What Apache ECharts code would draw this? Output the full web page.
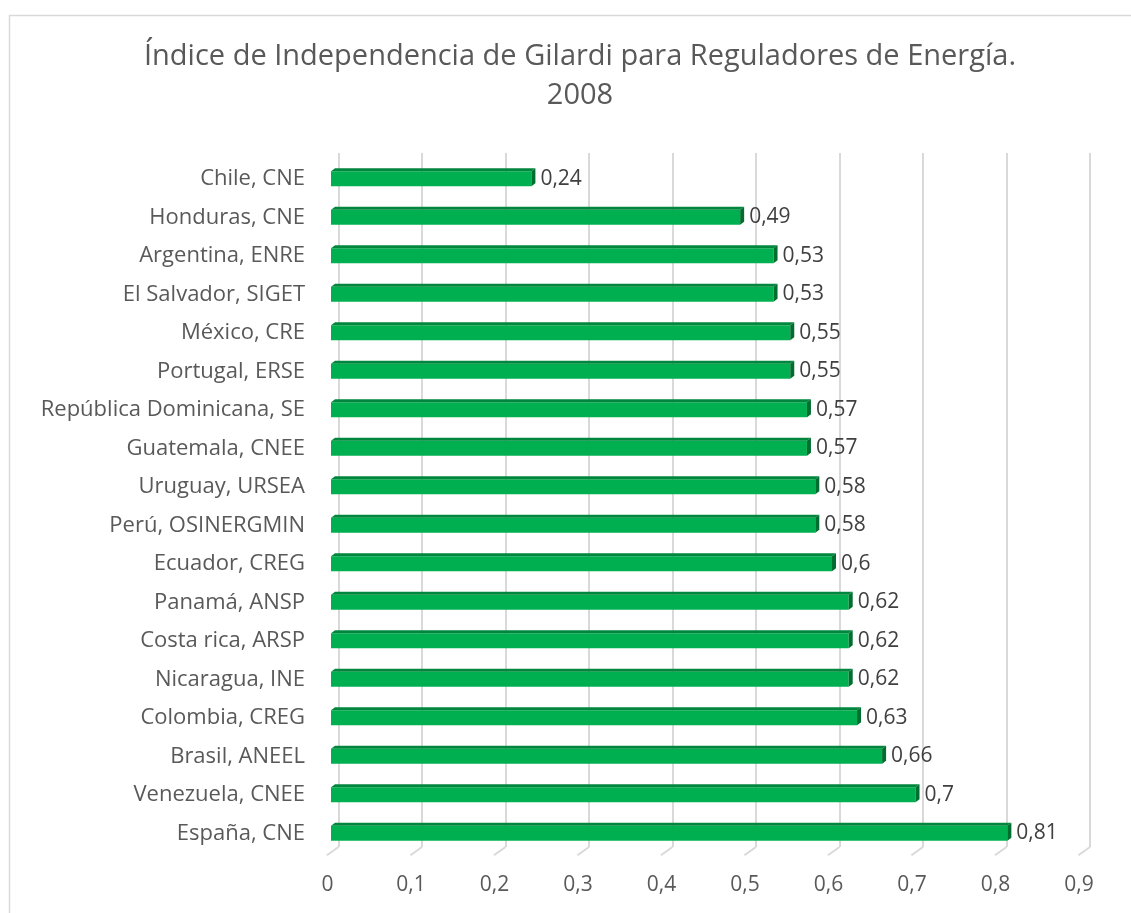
<!DOCTYPE html>
<html>
<head>
<meta charset="utf-8">
<script src="https://cdn.jsdelivr.net/npm/echarts@6/dist/echarts.min.js"></script>
<style>
  html, body { margin: 0; padding: 0; background: #fff; }
  #chart { width: 1131px; height: 913px; }
</style>
</head>
<body>
<div id="chart"></div>
<script>
// datos del grafico
const categorias = [
  'Chile, CNE', 'Honduras, CNE', 'Argentina, ENRE', 'El Salvador, SIGET',
  'México, CRE', 'Portugal, ERSE', 'República Dominicana, SE', 'Guatemala, CNEE',
  'Uruguay, URSEA', 'Perú, OSINERGMIN', 'Ecuador, CREG', 'Panamá, ANSP',
  'Costa rica, ARSP', 'Nicaragua, INE', 'Colombia, CREG', 'Brasil, ANEEL',
  'Venezuela, CNEE', 'España, CNE'
];
const indice = [0.24, 0.49, 0.53, 0.53, 0.55, 0.55, 0.57, 0.57, 0.58, 0.58,
  0.6, 0.62, 0.62, 0.62, 0.63, 0.66, 0.7, 0.81];
const ticks = [0, 0.1, 0.2, 0.3, 0.4, 0.5, 0.6, 0.7, 0.8, 0.9];

const fuente = '"Open Sans", sans-serif';
const coma = v => String(v).replace('.', ',');

const myChart = echarts.init(document.getElementById('chart'), null, {renderer: 'canvas'});

const option = {
  animation: false,
  title: {
    text: 'Índice de Independencia de Gilardi para Reguladores de Energía.\n2008',
    left: 575,
    top: 32,
    textAlign: 'center',
    textStyle: {
      fontFamily: fuente,
      fontSize: 29,
      fontWeight: 'normal',
      color: '#595959',
      lineHeight: 39
    }
  },
  graphic: [{
    type: 'rect',
    shape: {x: 9.5, y: 15.5, width: 1200, height: 1000},
    style: {fill: null, stroke: '#d9d9d9', lineWidth: 1.5},
    silent: true
  }],
  grid: [
    // plano frontal (barras)
    {left: 331, width: 751.5, top: 159.5, height: 693},
    // pared del fondo (lineas de division)
    {left: 338.5, width: 751.5, top: 153, height: 694}
  ],
  xAxis: [
    {
      gridIndex: 0, type: 'value', min: 0, max: 0.9, interval: 0.1,
      axisLine: {show: false}, axisTick: {show: false}, splitLine: {show: false},
      axisLabel: {
        margin: 22, padding: [0, 7, 0, 0],
        fontFamily: fuente, fontSize: 21, color: '#595959',
        formatter: v => coma(+v.toFixed(1))
      }
    },
    {
      gridIndex: 1, type: 'value', min: 0, max: 0.9, interval: 0.1,
      axisLine: {show: false}, axisTick: {show: false}, axisLabel: {show: false},
      splitLine: {show: true, lineStyle: {color: '#d9d9d9', width: 2}}
    }
  ],
  yAxis: [
    {
      gridIndex: 0, type: 'category', data: categorias, inverse: true,
      axisLine: {show: false}, axisTick: {show: false},
      axisLabel: {margin: 26, fontFamily: fuente, fontSize: 22, color: '#595959'}
    },
    {gridIndex: 1, type: 'value', min: 0, max: 1, show: false}
  ],
  series: [
    {
      // pies diagonales de las lineas de division
      type: 'custom',
      xAxisIndex: 1, yAxisIndex: 1,
      data: ticks.map(t => [t, 0]),
      silent: true,
      renderItem: (params, api) => {
        const p = api.coord([api.value(0), 0]);
        return {
          type: 'line',
          shape: {x1: p[0], y1: p[1], x2: p[0] - 11.6, y2: p[1] + 8.3},
          style: {stroke: '#d9d9d9', lineWidth: 2}
        };
      }
    },
    {
      name: 'Índice',
      type: 'bar',
      xAxisIndex: 0, yAxisIndex: 0,
      data: indice,
      barWidth: 15,
      z: 3,
      itemStyle: {color: '#00b050'},
      label: {
        show: true, position: 'right', distance: 9,
        fontFamily: fuente, fontSize: 21, color: '#404040',
        formatter: p => coma(p.value)
      }
    },
    {
      // caras superior y lateral (efecto 3D)
      type: 'custom',
      xAxisIndex: 0, yAxisIndex: 0,
      data: indice.map((v, i) => [v, i]),
      silent: true,
      z: 4,
      renderItem: (params, api) => {
        const fin = api.coord([api.value(0), api.value(1)]);
        const ini = api.coord([0, api.value(1)]);
        const t = fin[1] - 7.5, b = fin[1] + 7.5;
        return {
          type: 'group',
          children: [
            {
              type: 'polygon',
              shape: {points: [[ini[0], t], [fin[0], t], [fin[0] + 4, t - 3], [ini[0] + 4, t - 3]]},
              style: {fill: '#00873d'}
            },
            {
              type: 'polygon',
              shape: {points: [[fin[0], t], [fin[0] + 4, t - 3], [fin[0] + 4, b - 3], [fin[0], b]]},
              style: {fill: '#006e2e'}
            }
          ]
        };
      }
    }
  ]
};

myChart.setOption(option);
</script>
</body>
</html>
